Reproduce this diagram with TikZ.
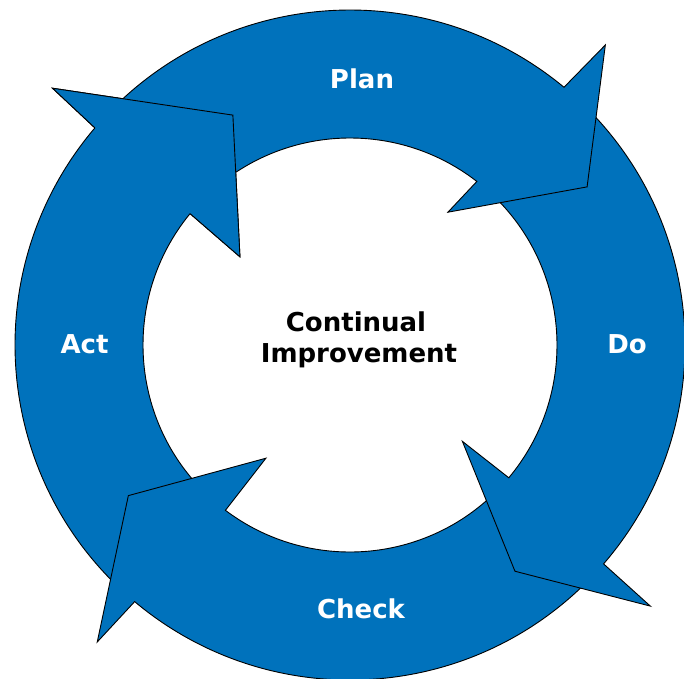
\documentclass[tikz,border=0pt]{standalone}
\usepackage{fontspec}
\setmainfont{DejaVu Sans}
\definecolor{pdcablue}{RGB}{0,114,188}
\begin{document}
\begin{tikzpicture}[x=1pt,y=1pt,
  arrowshape/.style={fill=pdcablue, draw=black, line width=0.9pt, line join=miter},
  headline/.style={draw=black, line width=0.9pt, line join=miter},
  stage/.style={text=white, font=\fontsize{26}{31}\selectfont\bfseries, inner sep=0pt, anchor=base},
  centre/.style={text=black, font=\fontsize{26}{31}\selectfont\bfseries, inner sep=0pt, anchor=base}]
\useasboundingbox (-350,-333) rectangle (334,345);
\def\RO{335pt}\def\RI{207pt}
% Act
\path[arrowshape] (227:\RO) arc[start angle=227, end angle=139.6, radius=\RO]
  -- (139.2:393pt) -- (117:258pt) -- (141.3:141pt) -- (140.6:\RI)
  arc[start angle=140.6, end angle=227, radius=\RI] -- cycle;
% Check
\path[arrowshape] (-44:\RO) arc[start angle=-44, end angle=-130, radius=\RO]
  -- (229.6:390pt) -- (214.2:268pt) -- (233.4:141pt) -- (233:\RI)
  arc[start angle=-127, end angle=-44, radius=\RI] -- cycle;
% Do
\path[arrowshape] (47:\RO) arc[start angle=47, end angle=-40.8, radius=\RO]
  -- (-41:398pt) -- (-53.9:280pt) -- (-40.6:148pt) -- (-39.9:\RI)
  arc[start angle=-39.9, end angle=47, radius=\RI] -- cycle;
% Plan
\path[arrowshape] (135:\RO) arc[start angle=135, end angle=50.3, radius=\RO]
  -- (49.6:394pt) -- (33.7:285pt) -- (53.6:165pt) -- (52.2:\RI)
  arc[start angle=52.2, end angle=135, radius=\RI] -- cycle;
% Act head on top of Plan tail
\fill[pdcablue] (139.6:\RO) -- (139.2:393pt) -- (117:258pt) -- (141.3:141pt) -- (140.6:\RI) -- cycle;
\path[headline] (139.6:\RO) -- (139.2:393pt) -- (117:258pt) -- (141.3:141pt) -- (140.6:\RI);
% labels
\node[stage] (plan) at (12,257) {Plan};
\node[stage] (do) at (277,-8) {Do};
\node[stage] (check) at (11,-273) {Check};
\node[stage] (act) at (-265.5,-8) {Act};
\node[centre] (cont1) at (6,14) {Continual};
\node[centre] (cont2) at (9,-17) {Improvement};
\end{tikzpicture}
\end{document}
